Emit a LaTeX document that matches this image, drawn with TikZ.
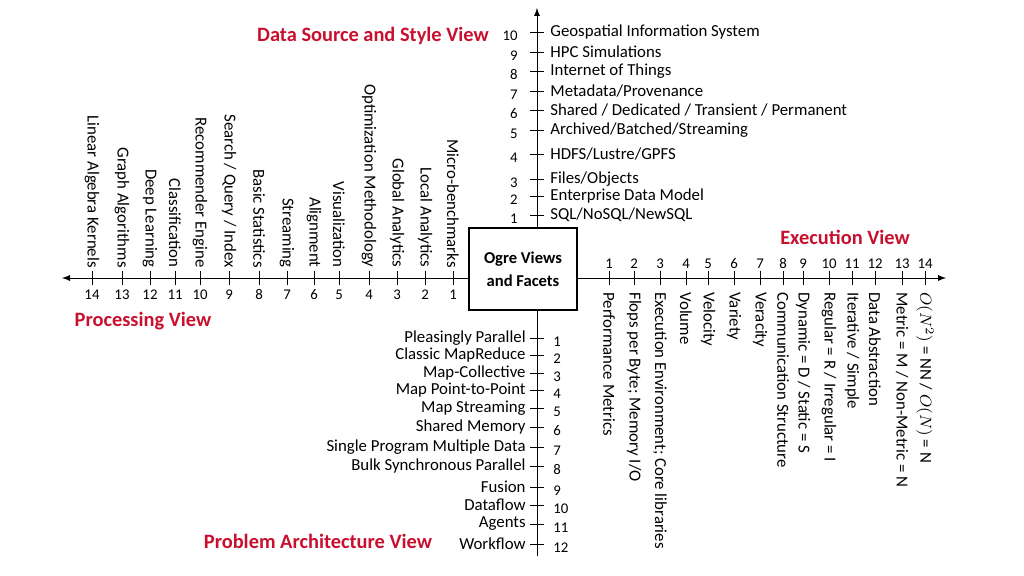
\documentclass[tikz,border=0pt]{standalone}
\usepackage{fontspec}
\setmainfont{Carlito}
\usetikzlibrary{positioning}
\definecolor{viewred}{RGB}{200,16,46}
\tikzset{
  viewtitle/.style={text=viewred, font=\fontsize{10.2}{12}\selectfont\bfseries},
  facet/.style={font=\fontsize{8.4}{9}\selectfont, inner sep=1pt},
  num/.style={font=\fontsize{7.4}{9}\selectfont, inner sep=1pt},
}
\begin{document}
\begin{tikzpicture}[x=0.5pt, y=-0.5pt]
    \useasboundingbox (0,0) rectangle (1024,576);

    % Centre box and axes
    \node[draw, thick, minimum width=54pt, minimum height=41pt, align=center, font=\fontsize{8.3}{11.5}\selectfont\bfseries] (ogre) at (523,269) {Ogre Views\\and Facets};
    \coordinate (top) at (537,8);
    \coordinate (bot) at (537,556);
    \coordinate (lft) at (62,278);
    \coordinate (rgt) at (946,278);
    \draw[-latex] (ogre.north -| top) -- (top);
    \draw (ogre.south -| top) -- (bot);
    \draw[-latex] (ogre.west |- lft) -- (lft);
    \draw[-latex] (ogre.east |- rgt) -- (rgt);

    % Data source and style view
    \node[viewtitle] (dsv) at (373,36) {Data Source and Style View};
    \foreach \n/\y/\t in {10/32/{Geospatial Information System}, 9/52/{HPC Simulations},
        8/71/{Internet of Things}, 7/91/{Metadata/Provenance},
        6/110/{Shared / Dedicated / Transient / Permanent}, 5/130/{Archived/Batched/Streaming},
        4/154/{HDFS/Lustre/GPFS}, 3/179/{Files/Objects}, 2/196/{Enterprise Data Model},
        1/215/{SQL/NoSQL/NewSQL}} {
      \draw (530,\y) -- (544,\y);
      \node[facet, anchor=west] (ds\n) at (548,\y) {\t};
      \node[num, anchor=east] at (520,\y+4) {\n};
    }

    % Execution view
    \node[viewtitle] (exv) at (845,237) {Execution View};
    \foreach \n/\x/\t in {1/609/{Performance Metrics}, 2/634/{Flops per Byte; Memory I/O},
        3/660/{Execution Environment; Core libraries}, 4/686/{Volume}, 5/708/{Velocity},
        6/734/{Variety}, 7/760/{Veracity}, 8/783/{Communication Structure},
        9/803/{Dynamic = D / Static = S}, 10/829/{Regular = R / Irregular = I},
        11/852/{Iterative / Simple}, 12/875/{Data Abstraction},
        13/902/{Metric = M / Non-Metric = N}, 14/925/{$O(N^2)$ = NN / $O(N)$ = N}} {
      \draw (\x,271) -- (\x,285);
      \node[num] at (\x,264) {\n};
      \node[facet, rotate=-90, anchor=west] (ex\n) at (\x,290) {\t};
    }

    % Processing view
    \node[viewtitle] (prv) at (143,321) {Processing View};
    \foreach \n/\x/\t in {1/453/{Micro-benchmarks}, 2/425/{Local Analytics},
        3/397/{Global Analytics}, 4/369/{Optimization Methodology}, 5/339/{Visualization},
        6/314/{Alignment}, 7/287/{Streaming}, 8/259/{Basic Statistics},
        9/229/{Search / Query / Index}, 10/200/{Recommender Engine},
        11/175/{Classification}, 12/150/{Deep Learning}, 13/122/{Graph Algorithms},
        14/92/{Linear Algebra Kernels}} {
      \draw (\x,271) -- (\x,285);
      \node[num] at (\x,295) {\n};
      \node[facet, rotate=-90, anchor=east] (pr\n) at (\x,270) {\t};
    }

    % Problem architecture view
    \node[viewtitle] (pav) at (318,541) {Problem Architecture View};
    \foreach \n/\y/\t in {1/338/{Pleasingly Parallel}, 2/355/{Classic MapReduce},
        3/373/{Map-Collective}, 4/390/{Map Point-to-Point}, 5/408/{Map Streaming},
        6/427/{Shared Memory}, 7/447/{Single Program Multiple Data},
        8/466/{Bulk Synchronous Parallel}, 9/487/{Fusion}, 10/505/{Dataflow},
        11/524/{Agents}, 12/544/{Workflow}} {
      \draw (530,\y) -- (544,\y);
      \node[facet, anchor=east] (pa\n) at (528,\y) {\t};
      \node[num, anchor=west] at (551,\y+4) {\n};
    }
\end{tikzpicture}
\end{document}
